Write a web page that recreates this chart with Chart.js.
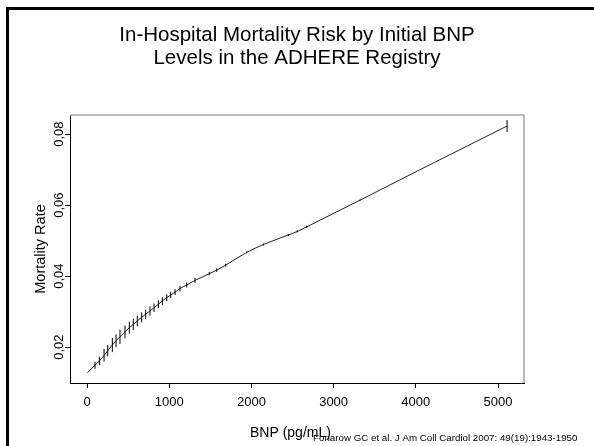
<!DOCTYPE html>
<html>
<head>
<meta charset="utf-8">
<style>
  body { margin: 0; background: #fff; }
  #wrap { position: relative; width: 594px; height: 446px; overflow: hidden; }
  #frame { position: absolute; left: 6px; top: 7px; width: 620px; height: 470px;
           border-left: 3px solid #000; border-top: 3px solid #000; }
  canvas { position: absolute; left: 0; top: 0; }
</style>
</head>
<body>
<div id="wrap">
  <div id="frame"></div>
  <canvas id="chartBnp" width="594" height="446"></canvas>
</div>
<script src="https://cdn.jsdelivr.net/npm/chart.js@4"></script>
<script>
// BNP (pg/mL) at which the curve was read, mortality rate there, and half height of the bar
const bnp = [5, 97, 150, 207, 252, 308, 353, 401, 462, 515, 563, 612, 665, 714, 766, 815, 868, 916,
  970, 1018, 1071, 1131, 1213, 1314, 1488, 1578, 1687, 1943, 2145, 2449, 2559, 2673, 3078, 3321, 4000, 5110];
const mortality = [0.0128, 0.0149, 0.0161, 0.0177, 0.0190, 0.0206, 0.0218, 0.0229, 0.0243, 0.0255, 0.0264,
  0.0274, 0.0284, 0.0293, 0.0302, 0.0311, 0.0321, 0.0330, 0.0339, 0.0347, 0.0355, 0.0365, 0.0375, 0.0388,
  0.0407, 0.0417, 0.0431, 0.0467, 0.0489, 0.0516, 0.0526, 0.0539, 0.0586, 0.0614, 0.0694, 0.0823];
const ciHalf = [0, 0.0010, 0.0012, 0.0018, 0.0016, 0.0020, 0.0018, 0.0020, 0.0018, 0.0017, 0.0016,
  0.0015, 0.0014, 0.0013, 0.0013, 0.0012, 0.0011, 0.0011, 0.0010, 0.0009, 0.0008, 0.0008, 0.0007, 0.0007,
  0.0005, 0.0005, 0.0004, 0.0003, 0.0003, 0.0003, 0.0003, 0.0003, 0, 0.0002, 0, 0.0017];

const xTicks = [0, 1000, 2000, 3000, 4000, 5000];
const yTicks = [0.02, 0.04, 0.06, 0.08];
const yTickLabels = ['0,02', '0,04', '0,06', '0,08'];

const titleLines = ['In-Hospital Mortality Risk by Initial BNP', 'Levels in the ADHERE Registry'];
const xTitle = 'BNP (pg/mL)';
const sourceNote = 'Fonarow GC et al. J Am Coll Cardiol 2007: 49(19):1943-1950';

const FONT = 'Liberation Sans, Arial, Helvetica, sans-serif';

// title, short vertical bars on the curve, box top/right edges, rotated y labels, x title, source note
const extras = {
    id: 'extras',
    afterDatasetsDraw(chart) {
        const ctx = chart.ctx, xs = chart.scales.x, ys = chart.scales.y, area = chart.chartArea;
        ctx.save();
        ctx.strokeStyle = '#000';
        ctx.lineWidth = 1;
        bnp.forEach((b, i) => {
            if (!ciHalf[i]) return;
            const x = xs.getPixelForValue(b);
            ctx.beginPath();
            ctx.moveTo(x, ys.getPixelForValue(mortality[i] - ciHalf[i]));
            ctx.lineTo(x, ys.getPixelForValue(mortality[i] + ciHalf[i]));
            ctx.stroke();
        });
        ctx.strokeStyle = '#a8a8a8';
        ctx.lineWidth = 1.6;
        ctx.beginPath();
        ctx.moveTo(area.left, area.top);
        ctx.lineTo(area.right, area.top);
        ctx.lineTo(area.right, area.bottom);
        ctx.stroke();

        ctx.fillStyle = '#000';
        ctx.textAlign = 'center';
        ctx.textBaseline = 'alphabetic';
        ctx.font = '20.5px ' + FONT;
        titleLines.forEach((t, i) => ctx.fillText(t, 297, 41 + i * 23));

        ctx.font = '13px ' + FONT;
        ctx.textBaseline = 'middle';
        yTicks.forEach((v, i) => {
            ctx.save();
            ctx.translate(area.left - 11, ys.getPixelForValue(v));
            ctx.rotate(-Math.PI / 2);
            ctx.fillText(yTickLabels[i], 0, 0);
            ctx.restore();
        });

        ctx.textAlign = 'left';
        ctx.textBaseline = 'alphabetic';
        ctx.font = '14px ' + FONT;
        ctx.fillText(xTitle, 250, 437);

        ctx.font = '9.75px ' + FONT;
        ctx.fillText(sourceNote, 313, 441);
        ctx.restore();
    }
};

new Chart(document.getElementById('chartBnp').getContext('2d'), {
    type: 'scatter',
    data: {
        datasets: [{
            data: bnp.map((b, i) => ({x: b, y: mortality[i]})),
            showLine: true,
            borderColor: '#222',
            borderWidth: 1,
            pointRadius: 0,
            cubicInterpolationMode: 'monotone'
        }]
    },
    options: {
        responsive: false,
        animation: false,
        events: [],
        layout: {padding: {left: 0, right: 70, top: 115, bottom: 0}},
        plugins: {
            legend: {display: false},
            tooltip: {enabled: false},
            title: {display: false}
        },
        scales: {
            x: {
                type: 'linear',
                min: -207,
                max: 5316,
                afterBuildTicks: s => { s.ticks = xTicks.map(v => ({value: v})); },
                afterFit: s => { s.height = 63; },
                grid: {display: true, drawOnChartArea: false, drawTicks: true, tickLength: 5, color: '#000'},
                border: {display: true, color: '#000', width: 1},
                ticks: {color: '#000', font: {family: FONT, size: 13}, padding: 7, maxRotation: 0,
                        callback: v => String(v)}
            },
            y: {
                type: 'linear',
                min: 0.0099,
                max: 0.0854,
                afterBuildTicks: s => { s.ticks = yTicks.map(v => ({value: v})); },
                afterFit: s => { s.width = 70; },
                grid: {display: true, drawOnChartArea: false, drawTicks: true, tickLength: 5, color: '#000'},
                border: {display: true, color: '#000', width: 1},
                ticks: {display: false},
                title: {display: true, text: 'Mortality Rate', color: '#000',
                        font: {family: FONT, size: 14.5}, padding: {top: 32, bottom: 0}}
            }
        }
    },
    plugins: [extras]
});
</script>
</body>
</html>
